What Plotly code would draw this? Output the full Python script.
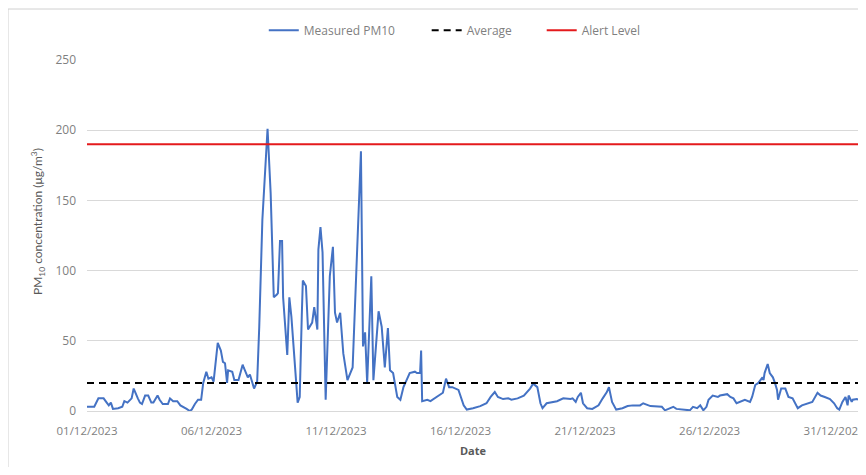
import pandas as pd
import plotly.graph_objects as go

# hours since 01/12/2023 00:00 and measured PM10 (µg/m³)
hours = [0, 7, 11, 16, 19, 21, 23, 25, 30, 34, 36, 39, 43, 45, 49, 51, 53, 56, 59, 62,
         64, 68, 70, 73, 78, 80, 83, 87, 90, 93, 96, 99, 101, 104, 107, 110, 112, 115, 117, 120,
         122, 126, 129, 131, 133, 135, 136, 140, 142, 146, 150, 151, 155, 157, 159, 161, 164, 166, 169, 174,
         177, 180, 183, 184, 186, 188, 189, 193, 195, 197, 203, 205, 207, 208, 211, 213, 217, 219, 222, 223,
         225, 227, 230, 234, 237, 239, 241, 244, 247, 251, 256, 264, 266, 268, 270, 274, 276, 281, 284, 287,
         290, 292, 295, 299, 302, 305, 308, 311, 316, 318, 321, 322, 323, 328, 331, 337, 343, 346, 349, 352,
         358, 363, 366, 372, 379, 385, 389, 393, 396, 401, 406, 409, 415, 421, 427, 430, 434, 437, 439, 443,
         448, 453, 459, 466, 468, 471, 473, 476, 478, 482, 487, 490, 493, 497, 501, 503, 506, 510, 516, 521,
         526, 533, 536, 543, 550, 554, 557, 562, 565, 568, 575, 581, 584, 588, 591, 594, 597, 599, 603, 608,
         610, 617, 620, 623, 626, 629, 634, 639, 641, 644, 647, 651, 652, 653, 655, 656, 658, 661, 663, 665,
         666, 669, 673, 676, 680, 682, 685, 689, 694, 699, 704, 707, 711, 716, 720, 723, 725, 728, 731, 733,
         734, 737, 738, 742, 744]
pm10 = [3, 3, 9, 9, 6, 4, 6, 1.5, 2, 3, 7, 6, 9, 16, 9, 6, 5, 11, 11, 6,
        6, 11, 8, 5, 5, 9, 7, 7, 4, 3, 1.5, 0, 1, 5, 8, 8, 20, 28, 23, 24,
        21, 48.5, 43, 35, 34, 20, 29, 28, 22, 22, 33, 31, 24, 26, 20, 16, 21, 60, 136, 201,
        155, 81, 83, 84, 121, 121, 81, 40, 81, 67, 6, 10, 68, 93, 89, 58, 63, 74, 58, 115,
        131, 113, 8, 96, 117, 70, 63, 70, 41, 22, 31, 185, 46, 56, 20, 96, 22, 71, 60, 31,
        59, 29, 27, 10, 8, 17, 22, 27, 28, 27, 27, 43, 7, 8, 7, 10, 13, 23, 17, 17,
        15, 4, 1, 2, 3.5, 5.5, 10, 13.5, 10, 8.5, 9, 8, 9, 11, 16, 19.5, 17, 5.5, 2, 5.5,
        6.5, 7, 9, 8.5, 9, 6.5, 10, 13, 5.5, 2, 1.5, 3, 4, 9, 13.5, 17, 6.5, 1, 2, 3.5,
        4, 4, 5.5, 3.5, 3, 3, 0.5, 2, 3, 1.5, 1, 0.5, 3, 2, 4, 0.5, 3, 8, 11, 10,
        11, 12, 10, 9, 5.5, 6.5, 8, 6.5, 10, 18.5, 20, 24, 22, 27, 31, 33.5, 27, 24, 20, 15,
        8, 16, 16, 10, 9, 6.5, 2, 4, 5.5, 6.5, 13, 11, 10, 8.5, 5.5, 2, 1, 6.5, 10, 4,
        11, 6.5, 8, 8.5, 8]

average_value = 20
alert_value = 190
period = ["2023-12-01", "2024-01-01"]
tick_dates = ["2023-12-01", "2023-12-06", "2023-12-11", "2023-12-16",
              "2023-12-21", "2023-12-26", "2023-12-31"]
tick_labels = ["01/12/2023", "06/12/2023", "11/12/2023", "16/12/2023",
               "21/12/2023", "26/12/2023", "31/12/2023"]

times = pd.Timestamp("2023-12-01") + pd.to_timedelta(hours, unit="h")

FONT = "Open Sans, sans-serif"
TICK_GREY = "#7F7F7F"
TITLE_GREY = "#595959"

fig = go.Figure()
fig.add_trace(go.Scatter(x=times, y=pm10, mode="lines", name="Measured PM10",
                         line=dict(color="#4472C4", width=2), legend="legend"))
fig.add_trace(go.Scatter(x=period, y=[average_value] * 2, mode="lines", name="Average",
                         line=dict(color="#000000", width=2, dash="7px,5px"), legend="legend2"))
fig.add_trace(go.Scatter(x=period, y=[alert_value] * 2, mode="lines", name="Alert Level",
                         line=dict(color="#E41A1C", width=2), legend="legend3"))

leg = dict(orientation="h", y=1.085, yanchor="middle", xanchor="left",
           font=dict(family=FONT, size=12, color=TICK_GREY), bgcolor="rgba(0,0,0,0)")

fig.update_layout(
    width=858, height=459,
    margin=dict(l=79, r=7, t=52, b=56, autoexpand=False),
    paper_bgcolor="white", plot_bgcolor="white",
    font=dict(family=FONT, size=12, color=TICK_GREY),
    showlegend=True,
    legend=dict(leg, x=0.229),
    legend2=dict(leg, x=0.440),
    legend3=dict(leg, x=0.589),
    xaxis=dict(range=period, tickvals=tick_dates, ticktext=tick_labels,
               showgrid=False, showline=True, linecolor="#D9D9D9", linewidth=1,
               ticks="", ticklabelstandoff=9, ticklabeloverflow="allow", automargin=False,
               tickfont=dict(size=11.5, color=TICK_GREY),
               title=dict(text="<b>Date</b>", font=dict(size=11, color=TITLE_GREY), standoff=10)),
    yaxis=dict(range=[0, 250], tickvals=[0, 50, 100, 150, 200, 250],
               showgrid=True, gridcolor="#D9D9D9", gridwidth=1, zeroline=False,
               ticks="", ticklabelstandoff=10, automargin=False,
               tickfont=dict(size=12, color=TICK_GREY)),
    annotations=[dict(text="PM<sub>10</sub> concentration (μg/m<sup>3</sup>)",
                      textangle=-90, xref="paper", yref="paper",
                      x=(38 - 87) / 772, y=(411 - 222) / 351, xanchor="center", yanchor="middle",
                      showarrow=False, font=dict(family="Lato, sans-serif", size=12, color=TITLE_GREY))],
    shapes=[dict(type="rect", xref="paper", yref="paper",
                 x0=(8 - 87) / 772, x1=1.1, y0=-0.3, y1=(411 - 9) / 351,
                 line=dict(color="#D0D0D0", width=1), fillcolor="rgba(0,0,0,0)", layer="below")],
)

fig.write_html("out.html")
